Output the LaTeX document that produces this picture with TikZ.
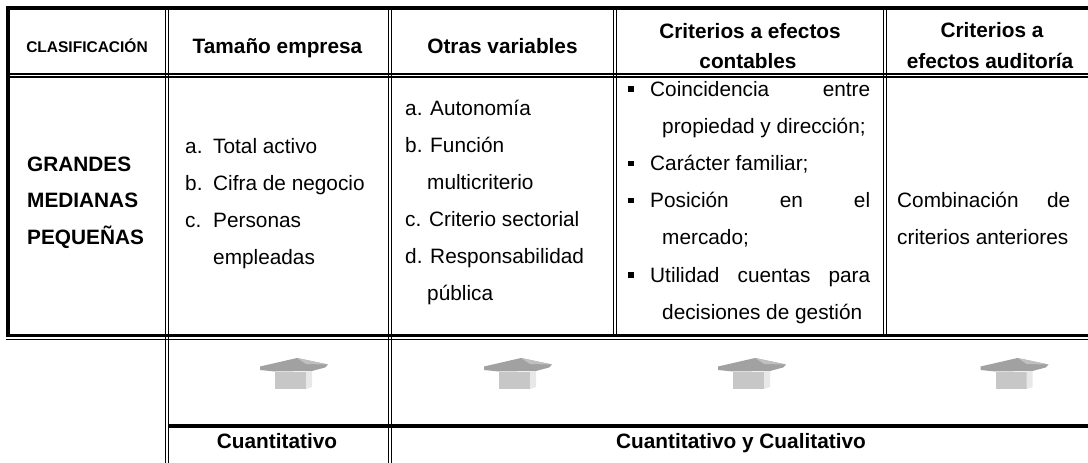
\documentclass[tikz,border=0pt]{standalone}
\usepackage{fontspec}
\setmainfont{Liberation Sans}
\usepackage{tikz}

\tikzset{
  txt/.style={anchor=base west, inner sep=0pt, font=\fontsize{20.8}{25}\selectfont},
  bold/.style={txt, font=\bfseries\fontsize{20.8}{25}\selectfont},
  head/.style={anchor=base, inner sep=0pt, font=\bfseries\fontsize{20.8}{25}\selectfont},
  dbl/.style={line width=1.2pt},
  thk/.style={line width=3.5pt},
}

\begin{document}
\begin{tikzpicture}[x=1pt,y=-1pt]
\useasboundingbox (0,0) rectangle (1088,463);

% table frame
\draw[thk] (6.25,8) -- (1088,8);
\draw[thk] (8,6.25) -- (8,337.45);
\draw[thk] (6.25,335.7) -- (1088,335.7);
\draw[dbl] (6.25,339.5) -- (1088,339.5);
\draw[dbl] (8,74) -- (1088,74);
\draw[dbl] (8,77) -- (1088,77);
\draw[thk] (168.3,426) -- (1088,426);

\foreach \x in {165.3,168.3,388.5,391.5}
   \draw[dbl] (\x,8) -- (\x,463);
\foreach \x in {613.5,616.5,883.5,886.5}
   \draw[dbl] (\x,8) -- (\x,335.7);

% header row
\node[head, font=\bfseries\fontsize{15.5}{18}\selectfont] (hclass) at (87,52) {CLASIFICACIÓN};
\node[head] (hsize) at (277.5,53) {Tamaño empresa};
\node[head] (hother) at (502.5,53) {Otras variables};
\node[head] (hacc) at (750,38) {Criterios a efectos};
\node[head] (hacc2) at (748,68) {contables};
\node[head] (haud) at (992,37) {Criterios a};
\node[head] (haud2) at (990,68) {efectos auditoría};

% classes
\node[bold] (grandes) at (27,171) {GRANDES};
\node[bold] (medianas) at (27,207.5) {MEDIANAS};
\node[bold] (pequenas) at (27,244) {PEQUEÑAS};

% size
\node[txt] (activo) at (185,153) {\makebox[28pt][l]{a.}Total activo};
\node[txt] (cifra) at (185,190) {\makebox[28pt][l]{b.}Cifra de negocio};
\node[txt] (personas) at (185,227) {\makebox[28pt][l]{c.}Personas};
\node[txt] (empleadas) at (213,264) {empleadas};

% other variables
\node[txt] (autonomia) at (405,115) {a. Autonomía};
\node[txt] (funcion) at (405,152) {b. Función};
\node[txt] (multi) at (427,189) {multicriterio};
\node[txt] (sector) at (405,226) {c. Criterio sectorial};
\node[txt] (resp) at (405,263) {d. Responsabilidad};
\node[txt] (publica) at (427,300) {pública};

% accounting criteria
\node[txt] (coinc) at (650,96) {\makebox[220pt][s]{Coincidencia entre}};
\node[txt] (prop) at (662,133.2) {propiedad y dirección;};
\node[txt] (familiar) at (650,170.4) {Carácter familiar;};
\node[txt] (posicion) at (650,207.6) {\makebox[220pt][s]{Posición en el}};
\node[txt] (mercado) at (662,244.8) {mercado;};
\node[txt] (utilidad) at (650,282) {\makebox[220pt][s]{Utilidad cuentas para}};
\node[txt] (gestion) at (662,319.2) {decisiones de gestión};
\foreach \y in {96,170.4,207.6,282}
   \fill (628.3,\y-9.8) rectangle ++(5.5,5.5);

% audit criteria
\node[txt] (combin) at (897,207.6) {\makebox[173pt][s]{Combinación de}};
\node[txt] (anter) at (897,244.8) {criterios anteriores};

% arrows
\foreach \ax in {294,518,752,1014.5} {
   \begin{scope}[shift={(\ax,358)}]
   \fill[black!37] (-34,8.5) -- (3,0) -- (34,6.5) -- (31,9.5) -- (18,13) -- (-19,13.5) -- (-34,12) -- cycle;
   \fill[black!25] (3,0) -- (34,6.5) -- (12,6) -- cycle;
   \fill[black!22] (-19,13.5) rectangle (12,31);
   \fill[black!9] (12,13.5) -- (18,13) -- (18,29) -- (12,31) -- cycle;
   \end{scope}
}

% bottom row
\node[head] (cuant) at (277,448.5) {Cuantitativo};
\node[head] (cuali) at (741,448.5) {Cuantitativo y Cualitativo};
\end{tikzpicture}
\end{document}
